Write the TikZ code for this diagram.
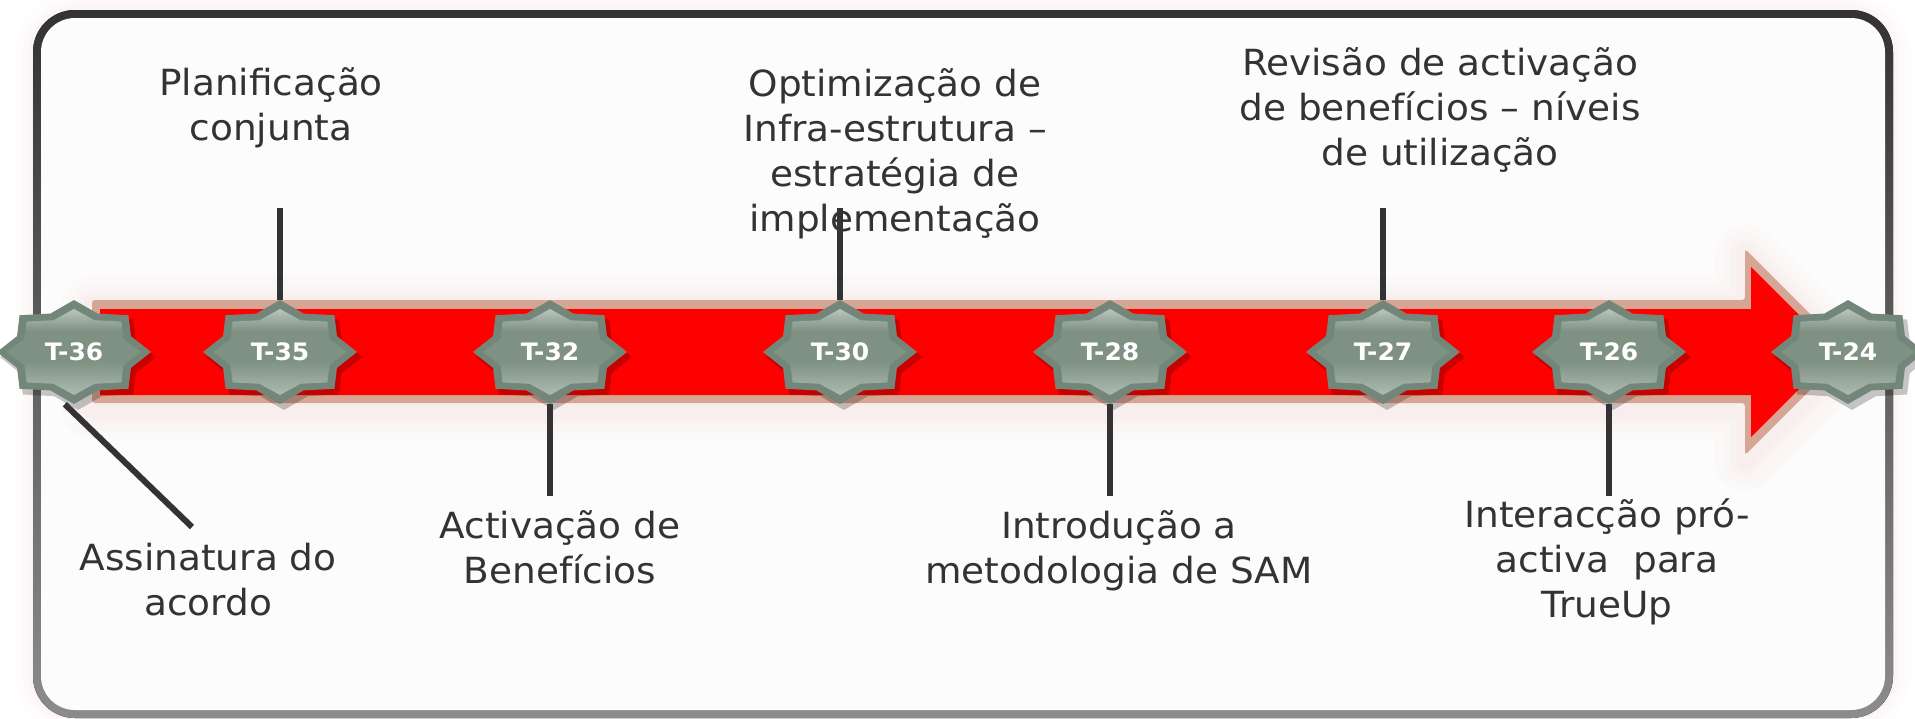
\documentclass[tikz,border=0pt]{standalone}
\usepackage{fontspec}
\setmainfont{DejaVu Sans}[FakeStretch=1.04]
\definecolor{txt}{HTML}{333333}
\definecolor{tanline}{HTML}{D6A594}
\definecolor{arrowred}{HTML}{FF0000}
\definecolor{starrim}{HTML}{728779}
\definecolor{startop}{HTML}{C6D1C8}
\definecolor{starmid}{HTML}{7E9183}
\definecolor{starbot}{HTML}{ADBBB0}
\definecolor{glow}{HTML}{E8B0B0}
\definecolor{framebg}{HTML}{FBFCFB}
\definecolor{frametop}{HTML}{333333}
\definecolor{framebot}{HTML}{8C8C8C}
\pgfdeclareverticalshading{starsh}{100bp}{color(0bp)=(starbot); color(25bp)=(starbot); color(45bp)=(starmid); color(62bp)=(starmid); color(78bp)=(startop); color(100bp)=(startop)}
\newcommand\starshape[1]{(0:1) \foreach \a in {0,45,...,315}{ -- (\a:1) -- ({\a+22.5}:#1)} -- cycle}
\begin{document}
\begin{tikzpicture}[x=1pt,y=-1pt,
  lbl/.style={text=txt, font=\fontsize{36}{45}\selectfont, align=center, inner sep=0pt, anchor=north},
  conn/.style={draw=txt, line width=6pt},
  tlabel/.style={text=white, font=\fontsize{24}{28}\selectfont\bfseries, minimum width=154pt, minimum height=104pt, inner sep=0pt},
  glowline/.style={draw=glow, line join=round}
]
\useasboundingbox (0,0) rectangle (1915,718);
\fill[white] (0,0) rectangle (1915,718);
% frame glow
\foreach \w/\o in {44/0.03,30/0.04,18/0.05,10/0.06}
  \draw[glowline, line width=\w, opacity=\o, rounded corners=42] (37,14) rectangle (1889,714);
% frame
\fill[top color=frametop, bottom color=framebot, rounded corners=42] (33,10) rectangle (1893,718);
\fill[framebg, rounded corners=34] (41,18) rectangle (1885,710);
% arrow glow
\foreach \w/\o in {60/0.03,44/0.04,30/0.05,18/0.06}
  \draw[glowline, line width=\w, opacity=\o, shift={(0,6)}] (92,300) -- (1745,300) -- (1745,249) -- (1848,352) -- (1745,455) -- (1745,403) -- (92,403) -- cycle;
% arrow
\fill[tanline, rounded corners=3] (92,300) -- (1745,300) -- (1745,249) -- (1848,352) -- (1745,455) -- (1745,403) -- (92,403) -- cycle;
\fill[arrowred] (100,309) -- (1751,309) -- (1751,267) -- (1836,352) -- (1751,437) -- (1751,395) -- (100,395) -- cycle;
% labels
\node[lbl] (l35) at (271,67) {Planificação\\conjunta};
\node[lbl] (l30) at (895,68) {Optimização de\\Infra-estrutura –\\estratégia de\\implementação};
\node[lbl] (l27) at (1440,47) {Revisão de activação\\de benefícios – níveis\\de utilização};
\node[lbl] (l36) at (208,543) {Assinatura do\\acordo};
\node[lbl] (l32) at (560,510) {Activação de\\Benefícios};
\node[lbl] (l28) at (1119,510) {Introdução a\\metodologia de SAM};
\node[lbl] (l26) at (1607,498) {Interacção pró-\\activa\ \ para\\TrueUp};
% stars
\foreach \x/\t/\n in {74/T-36/s36, 280/T-35/s35, 550/T-32/s32, 840/T-30/s30, 1110/T-28/s28, 1383/T-27/s27, 1609/T-26/s26, 1848/T-24/s24} {
  \fill[black, opacity=0.22, shift={(\x+4,357)}, xscale=78, yscale=53] \starshape{0.8};
  \fill[starrim, shift={(\x,352)}, xscale=77, yscale=52] \starshape{0.8};
  \shade[shading=starsh, shift={(\x,352)}, xscale=67, yscale=43] \starshape{0.8};
  \node[tlabel] (\n) at (\x,352) {\t};
}
% connector ends
\coordinate (e35) at (280,208);
\coordinate (e30) at (840,208);
\coordinate (e27) at (1383,208);
\coordinate (e32) at (550,496);
\coordinate (e28) at (1110,496);
\coordinate (e26) at (1609,496);
\coordinate (e36) at (192,527);
% connectors
\draw[conn] (e35) -- (s35.north);
\draw[conn] (e30) -- (s30.north);
\draw[conn] (e27) -- (s27.north);
\draw[conn] (s32.south) -- (e32);
\draw[conn] (s28.south) -- (e28);
\draw[conn] (s26.south) -- (e26);
\draw[conn] (s36.-100) -- (e36);
\end{tikzpicture}
\end{document}
